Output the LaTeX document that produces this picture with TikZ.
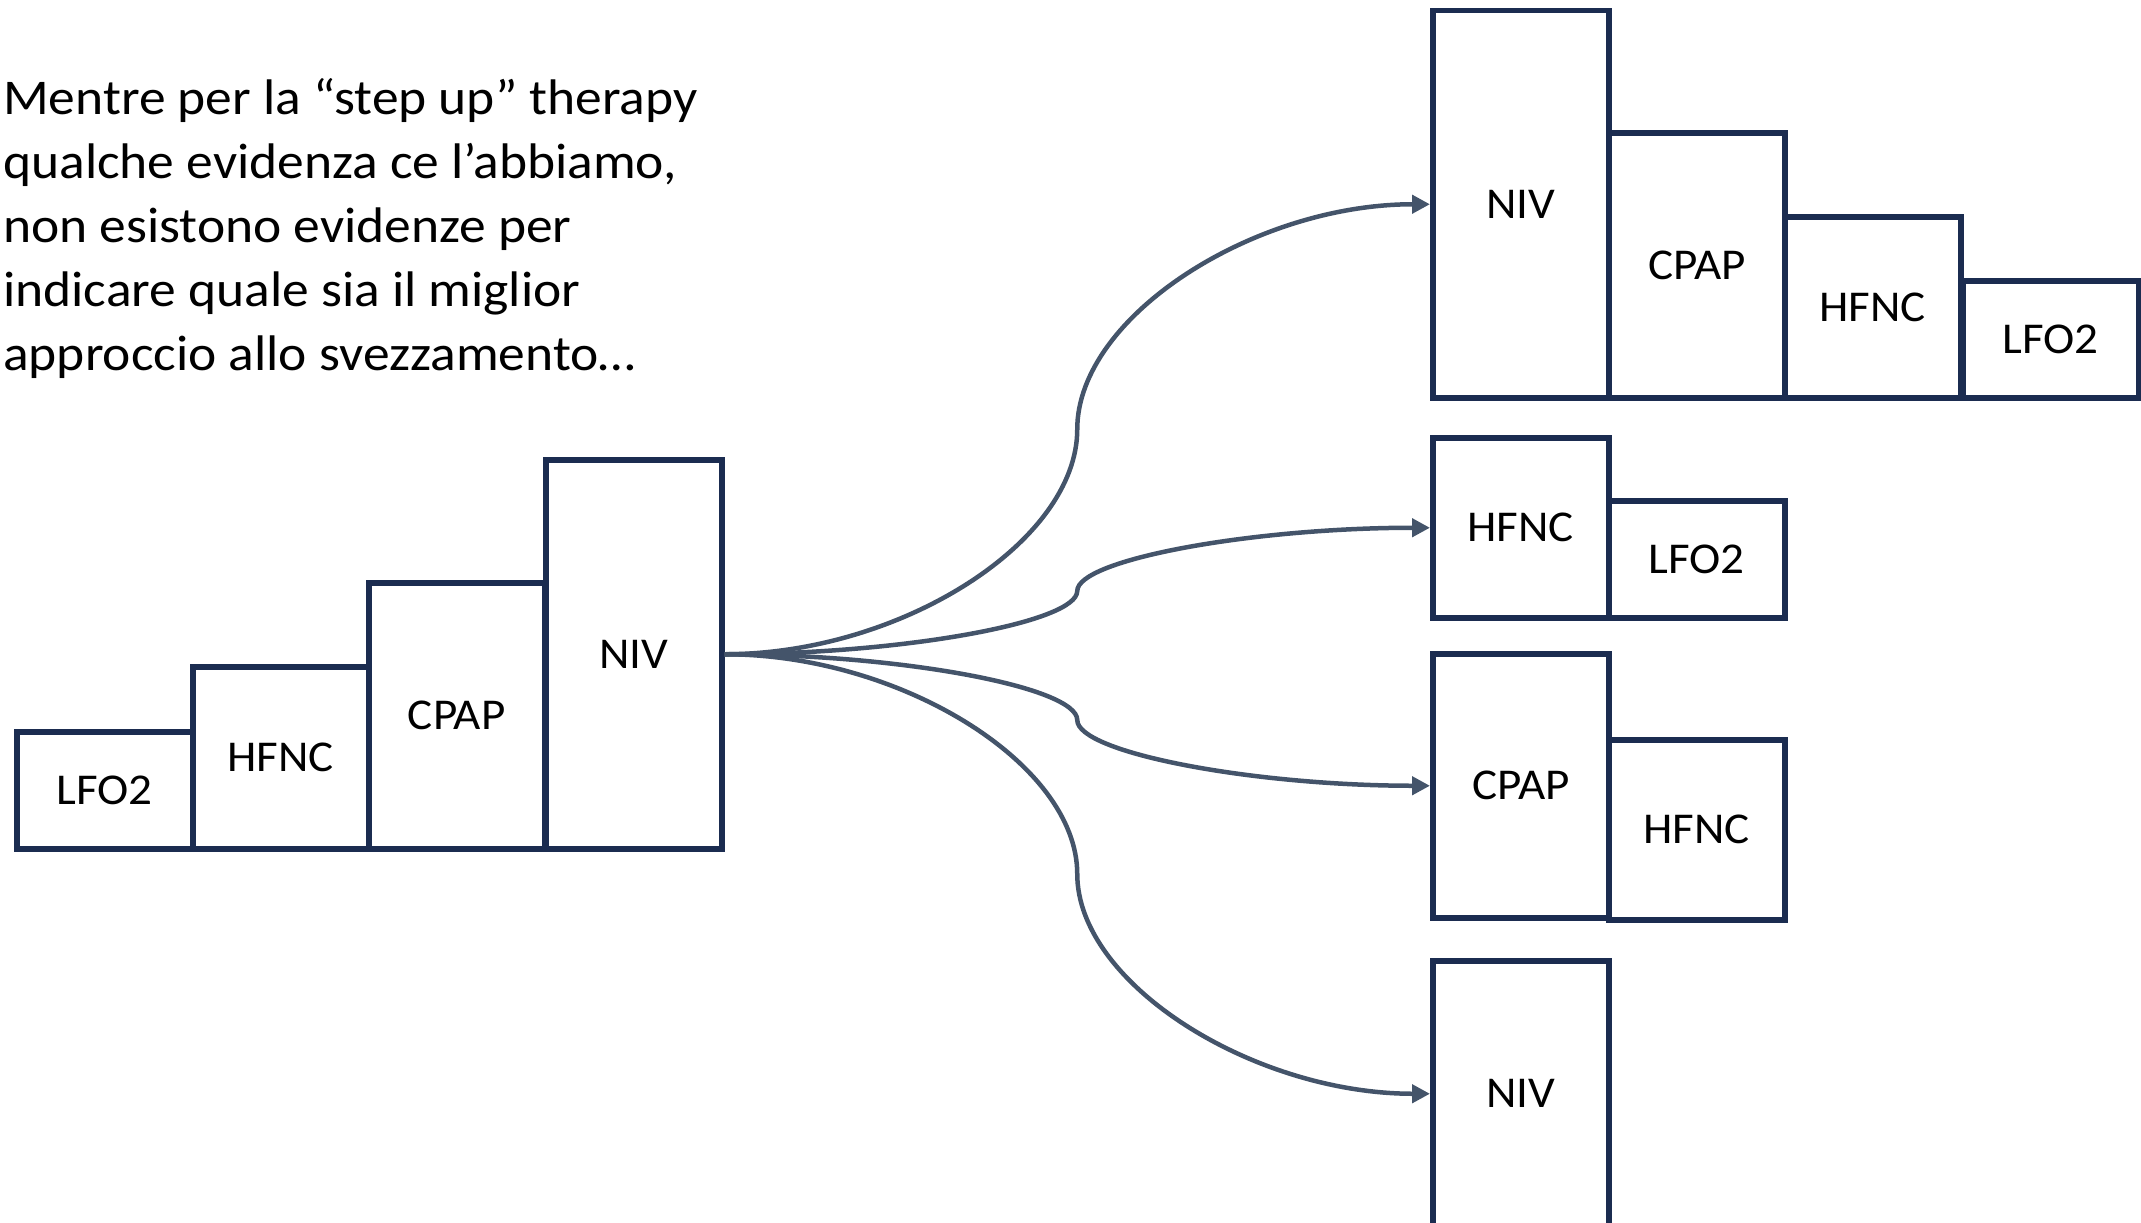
\documentclass[tikz,border=0pt]{standalone}
\usepackage{fontspec}
\setmainfont{Carlito}[FakeStretch=1.07]
\usetikzlibrary{calc,arrows.meta}
\definecolor{boxline}{HTML}{1B2C50}
\definecolor{connline}{HTML}{44546A}
\newcommand\ppconn[2]{%
  \path ($(#1)!0.25!(#2)$) coordinate (q1) ($(#1)!0.5!(#2)$) coordinate (q2) ($(#1)!0.75!(#2)$) coordinate (q3);
  \draw[conn] (#1) .. controls (q1 |- #1) and (q2 |- q1) .. (q2) .. controls (q2 |- q3) and (q3 |- #2) .. (#2);
}
\begin{document}
\begin{tikzpicture}[x=1pt,y=-1pt,
  bx/.style={draw=boxline, line width=5.5pt, fill=white, inner sep=0pt, anchor=north west,
    minimum width=176pt, font=\fontsize{44}{50}\selectfont},
  conn/.style={draw=connline, line width=4.5pt, -{Triangle[length=18pt,width=18pt]}}]
\useasboundingbox (0,0) rectangle (2141,1223);
\begin{scope}
\clip (0,0) rectangle (2141,1223);
% left staircase
\node[bx, minimum height=117pt] (L1) at (14,729) {LFO2};
\node[bx, minimum height=182pt] (L2) at (190,664) {HFNC};
\node[bx, minimum height=266pt] (L3) at (366,580) {CPAP};
\node[bx, minimum height=389pt] (L4) at (543,457) {NIV};
% top right group
\node[bx, minimum height=387pt] (A1) at (1430,8) {NIV};
\node[bx, minimum height=265pt] (A2) at (1606,130) {CPAP};
\node[bx, minimum height=181pt] (A3) at (1782,214) {HFNC};
\node[bx, minimum height=117pt] (A4) at (1960,278) {LFO2};
% second group
\node[bx, minimum height=180pt] (B1) at (1430,435) {HFNC};
\node[bx, minimum height=117pt] (B2) at (1606,498) {LFO2};
% third group
\node[bx, minimum height=264pt] (C1) at (1430,651) {CPAP};
\node[bx, minimum height=180pt] (C2) at (1606,737) {HFNC};
% fourth group
\node[bx, minimum height=266pt] (D1) at (1430,958) {NIV};
\end{scope}
% paragraph
\node[anchor=north west, inner sep=0pt, align=left, font=\fontsize{50}{64}\selectfont] (txt) at (3,78)
  {Mentre per la “step up” therapy\\qualche evidenza ce l’abbiamo,\\non esistono evidenze per\\indicare quale sia il miglior\\approccio allo svezzamento…};
% connectors
\ppconn{L4.east}{A1.west}
\ppconn{L4.east}{B1.west}
\ppconn{L4.east}{C1.west}
\ppconn{L4.east}{D1.west}
\end{tikzpicture}
\end{document}
